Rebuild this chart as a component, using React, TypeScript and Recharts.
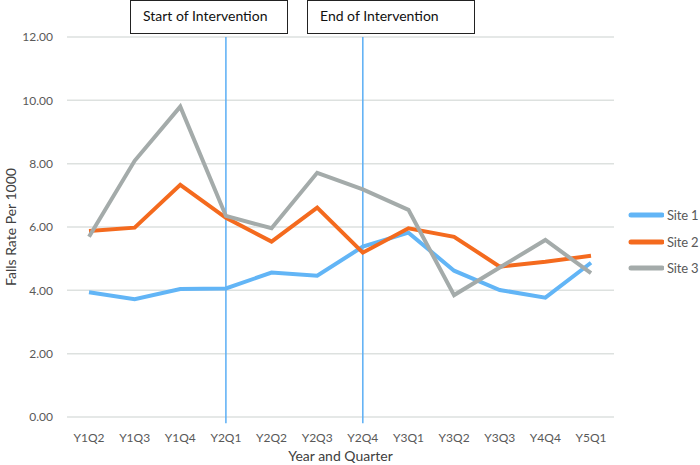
import React from "react"
import {
  LineChart,
  Line,
  XAxis,
  YAxis,
  CartesianGrid,
  ReferenceLine,
} from "recharts"

const quarters = [
  "Y1Q2", "Y1Q3", "Y1Q4", "Y2Q1", "Y2Q2", "Y2Q3",
  "Y2Q4", "Y3Q1", "Y3Q2", "Y3Q3", "Y4Q4", "Y5Q1",
]
const site1 = [3.94, 3.72, 4.04, 4.06, 4.56, 4.46, 5.38, 5.82, 4.62, 4.01, 3.77, 4.87]
const site2 = [5.87, 5.98, 7.33, 6.29, 5.54, 6.61, 5.19, 5.96, 5.69, 4.75, 4.9, 5.09]
const site3 = [5.69, 8.09, 9.8, 6.35, 5.96, 7.71, 7.19, 6.54, 3.85, 4.72, 5.59, 4.54]
const yTicks = [0, 2, 4, 6, 8, 10, 12]
const interventionStart = "Y2Q1"
const interventionEnd = "Y2Q4"

const seriesList = [
  { key: "site1", name: "Site 1", color: "#62b5f6" },
  { key: "site2", name: "Site 2", color: "#f46a1e" },
  { key: "site3", name: "Site 3", color: "#a4abaa" },
]

const data = quarters.map((q, i) => ({
  quarter: q,
  site1: site1[i],
  site2: site2[i],
  site3: site3[i],
}))

const font = "Lato, 'Open Sans', sans-serif"

// legend sits outside the svg so the plot keeps its full width
function LegendBox() {
  return (
    <div
      style={{
        position: "absolute",
        left: 628,
        top: 202,
        fontFamily: font,
        fontSize: 13,
        letterSpacing: -0.2,
        color: "#595959",
        whiteSpace: "nowrap",
      }}
    >
      {seriesList.map((s) => (
        <div key={s.key} style={{ display: "flex", alignItems: "center", height: 26.5 }}>
          <svg width={36} height={8}>
            <line x1={3} y1={4} x2={34} y2={4} stroke={s.color} strokeWidth={5} strokeLinecap="round" />
          </svg>
          <span style={{ marginLeft: 3 }}>{s.name}</span>
        </div>
      ))}
    </div>
  )
}

function YLabel(props: any) {
  const vb = props.viewBox
  const x = vb.x + 10
  const y = vb.y + vb.height / 2
  return (
    <text
      x={x}
      y={y}
      transform={`rotate(-90, ${x}, ${y})`}
      textAnchor="middle"
      dominantBaseline="central"
      fontSize={14}
      fill="#404040"
      fontFamily={font}
    >
      Falls Rate Per 1000
    </text>
  )
}

const boxStyle: React.CSSProperties = {
  position: "absolute",
  top: 0,
  height: 34,
  boxSizing: "border-box",
  border: "1.5px solid #222",
  background: "#fff",
  fontFamily: font,
  fontSize: 14,
  color: "#111",
  paddingLeft: 12,
  paddingTop: 6,
  whiteSpace: "nowrap",
}

export default function App() {
  return (
    <div style={{ position: "absolute", left: 0, top: 0, width: 700, height: 465, background: "#fff" }}>
      <LineChart
        width={700}
        height={465}
        data={data}
        margin={{ top: 37, right: 86, bottom: 0, left: 0 }}
      >
        <CartesianGrid vertical={false} stroke="#dde1df" strokeWidth={1.5} />
        <XAxis
          dataKey="quarter"
          height={48}
          padding={{ left: 22, right: 23 }}
          tickLine={false}
          axisLine={false}
          tickMargin={10}
          interval={0}
          tick={{ fontSize: 12, fill: "#595959", fontFamily: font }}
          label={{
            value: "Year and Quarter",
            position: "insideBottom",
            offset: 4,
            fontSize: 14,
            fill: "#404040",
            fontFamily: font,
          }}
        />
        <YAxis
          width={67}
          domain={[0, 12]}
          ticks={yTicks}
          tickLine={false}
          axisLine={false}
          tickMargin={8}
          tickFormatter={(v: number) => v.toFixed(2)}
          tick={{ fontSize: 12, fill: "#595959", fontFamily: font }}
          label={<YLabel />}
        />
        <ReferenceLine
          segment={[{ x: interventionStart, y: 12 }, { x: interventionStart, y: -0.2 }]}
          stroke="#5aaef5"
          strokeWidth={1.5}
          ifOverflow="visible"
        />
        <ReferenceLine
          segment={[{ x: interventionEnd, y: 12 }, { x: interventionEnd, y: -0.2 }]}
          stroke="#5aaef5"
          strokeWidth={1.5}
          ifOverflow="visible"
        />
        {seriesList.map((s) => (
          <Line
            key={s.key}
            type="linear"
            dataKey={s.key}
            name={s.name}
            stroke={s.color}
            strokeWidth={4}
            dot={false}
            isAnimationActive={false}
          />
        ))}
      </LineChart>
      <LegendBox />
      <div style={{ ...boxStyle, left: 130, width: 158 }}>Start of Intervention</div>
      <div style={{ ...boxStyle, left: 307, width: 168 }}>End of Intervention</div>
    </div>
  )
}
